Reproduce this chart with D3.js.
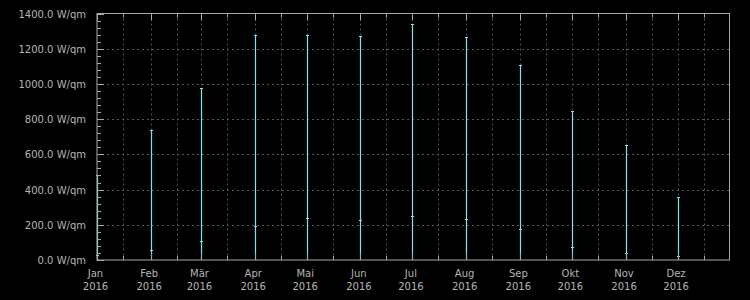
<!DOCTYPE html>
<html lang="de">
<head>
<meta charset="utf-8">
<title>Strahlung 2016</title>
<script src="https://cdnjs.cloudflare.com/ajax/libs/d3/7.8.5/d3.min.js"></script>
<style>
  body { margin: 0; background: #000; }
  text { font-family: "DejaVu Sans", sans-serif; font-size: 10px; fill: #b4b4b4; }
</style>
</head>
<body>
<script>
// month starts, max and average values (W/qm)
var months = ["2016-01-01","2016-02-01","2016-03-01","2016-04-01","2016-05-01","2016-06-01",
              "2016-07-01","2016-08-01","2016-09-01","2016-10-01","2016-11-01","2016-12-01"];
var monthNames = ["Jan","Feb","Mär","Apr","Mai","Jun","Jul","Aug","Sep","Okt","Nov","Dez"];
var maxValues = [483, 737, 979, 1276, 1276, 1270, 1339, 1265, 1106, 845, 651, 356];
var avgValues = [28, 57, 108, 191, 237, 225, 248, 231, 174, 72, 38, 21];
var minValues = [0, 0, 0, 0, 0, 0, 0, 0, 0, 0, 0, 0];
var yTicks = [0, 200, 400, 600, 800, 1000, 1200, 1400];

var w = 750, h = 300;
var pLeft = 97, pRight = 729.5, pTop = 13.5, pBottom = 260;

var parse = d3.timeParse("%Y-%m-%d");
var dates = months.map(parse);

var x = d3.scaleTime()
    .domain([new Date(2016, 0, 1), new Date(2016, 11, 31)])
    .range([pLeft, pRight]);
var y = d3.scaleLinear().domain([0, 1400]).range([pBottom, pTop]);

var svg = d3.select("body").append("svg")
    .attr("width", w).attr("height", h);

svg.append("rect").attr("width", w).attr("height", h).attr("fill", "#000");

// half month ticks
var minorDates = dates.map(function(d){ return d3.timeDay.offset(d, 15); })
    .filter(function(d){ return d < x.domain()[1]; });
var allDates = dates.concat(minorDates);
var minorY = d3.range(0, 1400, 40).filter(function(v){ return v % 200 != 0; });

// grid
svg.append("g").selectAll("line")
    .data(allDates.filter(function(d){ return x(d) > pLeft + 1; }))
    .enter().append("line")
    .attr("x1", function(d){ return Math.round(x(d)) + 0.5; })
    .attr("x2", function(d){ return Math.round(x(d)) + 0.5; })
    .attr("y1", pTop).attr("y2", pBottom)
    .attr("stroke", "#555").attr("stroke-dasharray", "2,3");
svg.append("g").selectAll("line")
    .data(yTicks.slice(1, -1))
    .enter().append("line")
    .attr("x1", pLeft).attr("x2", pRight)
    .attr("y1", function(d){ return Math.round(y(d)) + 0.5; })
    .attr("y2", function(d){ return Math.round(y(d)) + 0.5; })
    .attr("stroke", "#555").attr("stroke-dasharray", "2,3");

// data: min-max line, caps, average mark
var data = dates.map(function(d, i){
    return {date: d, max: maxValues[i], avg: avgValues[i], min: minValues[i]};
});
var col = "#7ee6e6";
var g = svg.append("g").selectAll("g").data(data).enter().append("g");
g.append("line")
    .attr("x1", function(d){ return Math.round(x(d.date)) + 0.5; })
    .attr("x2", function(d){ return Math.round(x(d.date)) + 0.5; })
    .attr("y1", function(d){ return y(d.min); })
    .attr("y2", function(d){ return Math.round(y(d.max)) + 0.5; })
    .attr("stroke", col).attr("stroke-width", 1.2);
g.append("line")
    .attr("x1", function(d){ return Math.round(x(d.date)) - 1; })
    .attr("x2", function(d){ return Math.round(x(d.date)) + 2; })
    .attr("y1", function(d){ return Math.round(y(d.max)) + 0.5; })
    .attr("y2", function(d){ return Math.round(y(d.max)) + 0.5; })
    .attr("stroke", col);
g.append("line")
    .attr("x1", function(d){ return Math.round(x(d.date)) - 1; })
    .attr("x2", function(d){ return Math.round(x(d.date)) + 2; })
    .attr("y1", function(d){ return Math.round(y(d.avg)) + 0.5; })
    .attr("y2", function(d){ return Math.round(y(d.avg)) + 0.5; })
    .attr("stroke", col);

// frame
var axisCol = "#a8a8a8";
svg.append("rect")
    .attr("x", pLeft).attr("y", pTop)
    .attr("width", pRight - pLeft).attr("height", pBottom - pTop)
    .attr("fill", "none").attr("stroke", axisCol);

// y ticks (inward)
svg.append("g").selectAll("line").data(yTicks).enter().append("line")
    .attr("x1", pLeft).attr("x2", pLeft + 7)
    .attr("y1", function(d){ return Math.round(y(d)) + 0.5; })
    .attr("y2", function(d){ return Math.round(y(d)) + 0.5; })
    .attr("stroke", axisCol);
svg.append("g").selectAll("line").data(minorY).enter().append("line")
    .attr("x1", pLeft).attr("x2", pLeft + 4)
    .attr("y1", function(d){ return Math.round(y(d)) + 0.5; })
    .attr("y2", function(d){ return Math.round(y(d)) + 0.5; })
    .attr("stroke", axisCol);

// x ticks top and bottom (inward)
[[pTop, 1], [pBottom, -1]].forEach(function(p){
    svg.append("g").selectAll("line").data(dates).enter().append("line")
        .attr("x1", function(d){ return Math.round(x(d)) + 0.5; })
        .attr("x2", function(d){ return Math.round(x(d)) + 0.5; })
        .attr("y1", p[0]).attr("y2", p[0] + p[1] * 7)
        .attr("stroke", axisCol);
    svg.append("g").selectAll("line").data(minorDates).enter().append("line")
        .attr("x1", function(d){ return Math.round(x(d)) + 0.5; })
        .attr("x2", function(d){ return Math.round(x(d)) + 0.5; })
        .attr("y1", p[0]).attr("y2", p[0] + p[1] * 4)
        .attr("stroke", axisCol);
});

// y labels
svg.append("g").selectAll("text").data(yTicks).enter().append("text")
    .attr("x", pLeft - 11)
    .attr("y", function(d){ return y(d) + 4; })
    .attr("text-anchor", "end")
    .text(function(d){ return d3.format(".1f")(d) + " W/qm"; });

// x labels
var xl = svg.append("g").selectAll("text").data(dates).enter().append("text")
    .attr("text-anchor", "middle")
    .attr("transform", function(d){ return "translate(" + (x(d) - 1.5) + ",0)"; });
xl.append("tspan").attr("x", 0).attr("y", 277)
    .text(function(d, i){ return monthNames[i]; });
xl.append("tspan").attr("x", 0).attr("y", 290)
    .text(function(d){ return d.getFullYear(); });
</script>
</body>
</html>
